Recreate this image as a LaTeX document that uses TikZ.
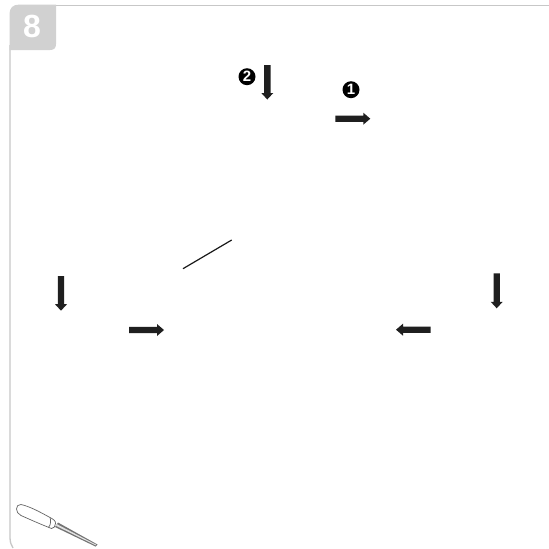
\documentclass[tikz,border=0pt]{standalone}
\usepackage{fontspec}
\setmainfont{Liberation Sans}
\tikzset{
  x=1pt,y=-1pt,
  blockarrow/.style={fill=black!88,draw=none},
  framerule/.style={draw=black!22,line width=1.3pt},
  badge/.style={circle,fill=black,text=white,inner sep=0pt,minimum size=17pt,font=\bfseries\fontsize{15}{15}\selectfont},
  toolline/.style={draw=black!60,line width=0.7pt,line join=round},
}
\newcommand{\arrowR}[3]{\fill[blockarrow] (#1,#3-3.2) -- (#2-7,#3-3.2) -- (#2-7,#3-6) -- (#2,#3) -- (#2-7,#3+6) -- (#2-7,#3+3.2) -- (#1,#3+3.2) -- cycle;}
\newcommand{\arrowL}[3]{\fill[blockarrow] (#1,#3-3.2) -- (#2+7,#3-3.2) -- (#2+7,#3-6) -- (#2,#3) -- (#2+7,#3+6) -- (#2+7,#3+3.2) -- (#1,#3+3.2) -- cycle;}
\newcommand{\arrowD}[3]{\fill[blockarrow] (#1-3.2,#2) -- (#1-3.2,#3-6.5) -- (#1-6,#3-6.5) -- (#1,#3) -- (#1+6,#3-6.5) -- (#1+3.2,#3-6.5) -- (#1+3.2,#2) -- cycle;}
\begin{document}
\begin{tikzpicture}
\useasboundingbox (0,0) rectangle (549,549);
\fill[white] (0,0) rectangle (549,549);
% frame
\draw[framerule,line width=0.9pt] (549,5) -- (50,5);
\draw[framerule] (10,45) -- (10,537) .. controls (10,542) and (11,545) .. (13,548);
% tab
\fill[black!18] (9.5,50) -- (9.5,14) .. controls (9.5,8) and (13,4.6) .. (19,4.6) -- (56,4.6) -- (56,44) .. controls (56,48) and (54,50) .. (50,50) -- cycle;
\node[text=white,font=\bfseries\fontsize{32}{32}\selectfont] (tabnum) at (32,26.5) {8};
% arrows
\arrowD{267.3}{65}{99.5}
\arrowR{335.3}{370.3}{118.7}
\arrowD{61}{276}{310.7}
\arrowR{129}{164}{330}
\arrowD{496.7}{273.3}{308.3}
\arrowL{430.7}{396}{329.7}
% badges
\node[badge] (two) at (247,76.7) {2};
\node[badge] (one) at (351,89.7) {1};
% thin line
\coordinate (la) at (183,268.7);
\coordinate (lb) at (231.7,240);
\draw[black!90,line width=1.2pt] (la) -- (lb);
% screwdriver
\fill[black!55] (58,522.5) -- (97.5,544.5) -- (95.5,546.5) -- (55,527) -- cycle;
\fill[black!12] (57,524.2) -- (96,544.6) -- (95.5,545.3) -- (56,525.8) -- cycle;
\draw[toolline,fill=white] (21,504.5) .. controls (30,506.5) and (40,512) .. (50,517.5) .. controls (53,519) and (56,521) .. (55.5,523.5) .. controls (55,526) and (54,529) .. (51.5,528.5) .. controls (40,524) and (30,519.5) .. (21,515.5) .. controls (15,513) and (15,504) .. (21,504.5) -- cycle;
\draw[toolline] (50,517.5) .. controls (51,520) and (51,525) .. (48.5,527.3);
\end{tikzpicture}
\end{document}
